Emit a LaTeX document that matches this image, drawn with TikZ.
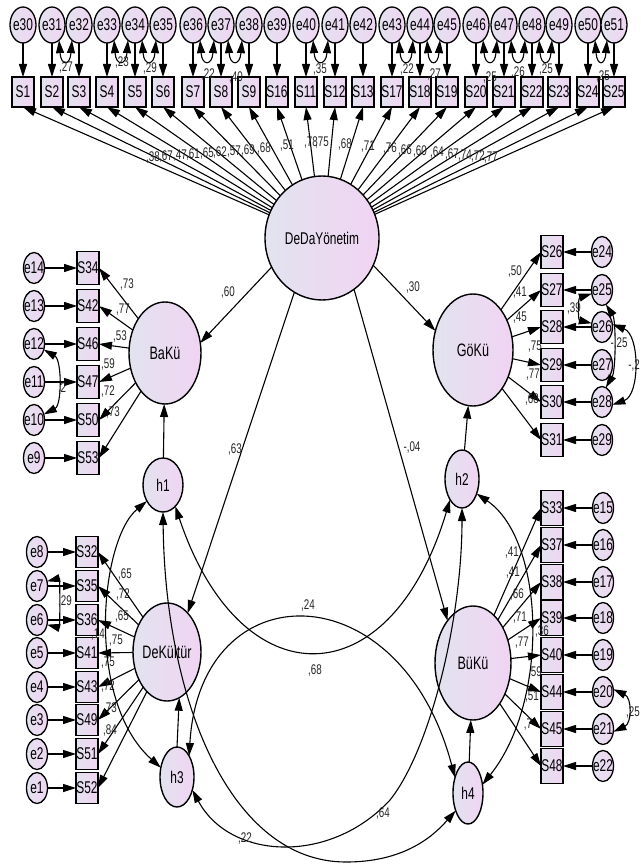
\documentclass[tikz,border=0pt]{standalone}
\usepackage{fontspec}
\setmainfont{Liberation Sans}[FakeStretch=0.7]
\usetikzlibrary{arrows.meta,shapes.geometric}
\definecolor{shA}{RGB}{226,227,239}
\definecolor{shB}{RGB}{241,212,243}
\newcommand\zb[1]{\makebox[0pt]{#1}}
\begin{document}
\begin{tikzpicture}[x=1pt,y=-1pt,
  >={Triangle[length=13pt,width=8pt]},
  every node/.style={inner sep=0pt, outer sep=0pt},
  lilac/.style={left color=shA, right color=shB},
  latent/.style={ellipse, draw=black, line width=1.4pt, lilac, font=\fontsize{18}{18}\selectfont},
  dist/.style={ellipse, draw=black, line width=1.4pt, lilac, font=\fontsize{17}{17}\selectfont},
  errtop/.style={ellipse, draw=black, line width=1.3pt, lilac, minimum width=26pt, minimum height=36pt, font=\fontsize{17}{17}\selectfont},
  errside/.style={ellipse, draw=black, line width=1.3pt, lilac, minimum width=21pt, minimum height=31pt, font=\fontsize{17}{17}\selectfont},
  obs/.style={rectangle, draw=black, line width=1.4pt, lilac, minimum width=22pt, minimum height=#1, font=\fontsize{17}{17}\selectfont},
  obs/.default=31pt,
  lbl/.style={font=\fontsize{14}{14}\selectfont, text=black!85},
  reg/.style={->, line width=1.1pt},
  cov/.style={<->, line width=1.1pt},
]
\fill[white] (0,0) rectangle (640,867);
\useasboundingbox (0,0) rectangle (640,867);

% latent variables and disturbances
\node[latent, minimum width=114pt, minimum height=124pt, font=\fontsize{17}{17}\selectfont] (DeDa) at (322,238) {\zb{DeDaYönetim}};
\node[latent, minimum width=72pt, minimum height=102pt] (BaKu) at (165,353) {\zb{BaKü}};
\node[latent, minimum width=80pt, minimum height=112pt] (GoKu) at (473,350) {\zb{GöKü}};
\node[latent, minimum width=68pt, minimum height=98pt] (DeKu) at (167,652) {\zb{DeKültür}};
\node[latent, minimum width=76pt, minimum height=114pt] (BuKu) at (473,663) {\zb{BüKü}};
\node[dist, minimum width=40pt, minimum height=54pt] (h1) at (163,485) {\zb{h1}};
\node[dist, minimum width=34pt, minimum height=58pt] (h2) at (462,479) {\zb{h2}};
\node[dist, minimum width=34pt, minimum height=60pt] (h3) at (177,777) {\zb{h3}};
\node[dist, minimum width=30pt, minimum height=62pt] (h4) at (468,793) {\zb{h4}};

% top row: items of DeDaYönetim
\foreach \x/\e/\s in {23/e30/S1, 52/e31/S2, 79/e32/S3, 107/e33/S4, 135/e34/S5, 163/e35/S6, 193/e36/S7, 221/e37/S8, 249/e38/S9, 277/e39/S16, 306/e40/S11, 335/e41/S12, 363/e42/S13, 392/e43/S17, 420/e44/S18, 447/e45/S19, 476/e46/S20, 504/e47/S21, 532/e48/S22, 559/e49/S23, 588/e50/S24, 614/e51/S25}{
  \node[errtop] (\e) at (\x,25) {\zb{\e}};
  \node[obs=30pt] (\s) at (\x,92) {\zb{\s}};
  \draw[reg] (\e) -- (\s);
  \draw[reg] (DeDa) -- (\s.south);
}
\foreach \a/\b/\t/\lx/\ly [count=\i] in {e31/e32/27/66/68, e33/e34/23/122/63, e34/e35/29/150/69, e36/e37/22/208/75, e37/e38/40/236/78, e40/e41/35/320/70, e43/e44/22/407/70, e44/e45/27/434/75, e46/e47/25/490/78, e47/e48/26/518/73, e48/e49/25/546/70, e50/e51/25/603/77}{
  \draw[cov] (\a.295) .. controls +(2,26) and +(-2,26) .. (\b.245);
  \node[lbl] (lc\i) at (\lx,\ly) {,\t};
}
\foreach \x/\y/\t [count=\i] in {153/158/38, 166/157/67, 180/156/47, 193/155/61, 207/154/65, 220/153/62, 234/152/57, 248/151/69, 264/149/68, 287/146/51, 311/143/78, 322/143/75, 345/145/68, 368/147/71, 390/149/76, 405/151/66, 420/152/60, 437/153/64, 452/155/67, 465/156/74, 478/157/72, 491/158/77}{
  \node[lbl] (ld\i) at (\x,\y) {,\t};
}

% left upper block: BaKü
\foreach \y/\e/\s in {268/e14/S34, 306/e13/S42, 344/e12/S46, 382/e11/S47, 420/e10/S50, 458/e9/S53}{
  \node[errside] (\e) at (34,\y) {\zb{\e}};
  \node[obs=33pt] (\s) at (88,\y) {\zb{\s}};
  \draw[reg] (\e) -- (\s);
  \draw[reg] (BaKu) -- (\s.east);
}
\draw[cov] (e12.330) .. controls (62,360) and (62,405) .. (e10.30);
\node[lbl, anchor=west] (lcE) at (58,389) {,2};
\foreach \x/\y/\t [count=\i] in {127/285/73, 123/310/77, 120/337/53, 108/365/59, 108/392/72, 113/413/73}{
  \node[lbl] (lb\i) at (\x,\y) {,\t};
}

% left lower block: DeKültür
\foreach \y/\e/\s in {552/e8/S32, 586/e7/S35, 620/e6/S36, 653/e5/S41, 687/e4/S43, 720/e3/S49, 754/e2/S51, 788/e1/S52}{
  \node[errside] (\e) at (37,\y) {\zb{\e}};
  \node[obs] (\s) at (87,\y) {\zb{\s}};
  \draw[reg] (\e) -- (\s);
  \draw[reg] (DeKu) -- (\s.east);
}
\draw[cov] (e7.25) .. controls (60,578) and (60,628) .. (e6.335);
\node[lbl] (lcF) at (65,602) {,29};
\foreach \x/\y/\t [count=\i] in {125/575/65, 123/595/72, 122/617/65, 116/641/75, 108/663/75, 108/686/72, 110/708/73, 110/730/84}{
  \node[lbl] (lk\i) at (\x,\y) {,\t};
}

% right upper block: GöKü
\foreach \y/\e/\s in {252/e24/S26, 290/e25/S27, 327/e26/S28, 365/e27/S29, 402/e28/S30, 440/e29/S31}{
  \node[errside] (\e) at (602,\y) {\zb{\e}};
  \node[obs=33pt] (\s) at (552,\y) {\zb{\s}};
  \draw[reg] (\e) -- (\s);
  \draw[reg] (GoKu) -- (\s.west);
}
\draw[cov] (e25.200) .. controls (578,298) and (578,320) .. (e26.160);
\draw[cov] (e25.285) .. controls (616,320) and (616,370) .. (e28.75);
\draw[cov] (e26.15) .. controls (640,335) and (640,395) .. (e28.345);
\node[lbl] (lcG) at (574,309) {,39};
\node[lbl] (lcH) at (619,344) {-,25};
\node[lbl] (lcI) at (634,366) {-,2};
\foreach \x/\y/\t [count=\i] in {515/272/50, 520/293/41, 520/318/45, 535/347/75, 533/375/77, 532/400/68}{
  \node[lbl] (lg\i) at (\x,\y) {,\t};
}

% right lower block: BüKü
\foreach \y/\e/\s in {508/e15/S33, 545/e16/S37, 582/e17/S38, 618/e18/S39, 655/e19/S40, 692/e20/S44, 729/e21/S45, 766/e22/S48}{
  \node[errside] (\e) at (603,\y) {\zb{\e}};
  \node[obs=35.5pt] (\s) at (552,\y) {\zb{\s}};
  \draw[reg] (\e) -- (\s);
  \draw[reg] (BuKu) -- (\s.west);
}
\draw[cov] (e20.15) .. controls (632,698) and (632,723) .. (e21.345);
\node[lbl] (lcJ) at (633,712) {,25};
\foreach \x/\y/\t [count=\i] in {512/553/41, 513/573/41, 517/595/66, 520/618/71, 522/643/77, 535/672/59, 532/697/51, 528/725/7}{
  \node[lbl] (lu\i) at (\x,\y) {,\t};
}

% structural paths
\draw[reg] (DeDa.210) -- (BaKu.16);
\draw[reg] (DeDa.332) -- (GoKu.153);
\draw[reg] (DeDa.243) -- (DeKu.62);
\draw[reg] (DeDa.302) -- (BuKu.121);
\draw[reg] (h1) -- (BaKu);
\draw[reg] (h2) -- (GoKu);
\draw[reg] (h3.north) -- (DeKu.285);
\draw[reg] (h4) -- (BuKu);
\node[lbl] (p1) at (228,293) {,60};
\node[lbl] (p2) at (413,288) {,30};
\node[lbl] (p3) at (235,450) {,63};
\node[lbl] (p4) at (412,448) {-,04};

% disturbance covariances
\draw[cov] (h1.225) .. controls (100,540) and (85,700) .. (h3.150);
\draw[cov] (h2.315) .. controls (545,540) and (550,700) .. (h4.30);
\draw[cov] (h1.300) .. controls (240,700) and (390,700) .. (h2.240);
\draw[cov] (h3.60) .. controls (200,570) and (400,570) .. (h4.130);
\draw[cov] (h3.320) .. controls (230,860) and (330,865) .. (390,800) .. controls (430,750) and (462,620) .. (h2.south);
\draw[cov] (h1.south) .. controls (165,700) and (230,862) .. (346,862) .. controls (400,862) and (430,840) .. (h4.235);
\node[lbl] (q1) at (98,635) {,14};
\node[lbl] (q2) at (542,632) {,36};
\node[lbl] (q3) at (315,670) {,68};
\node[lbl] (q4) at (308,606) {,24};
\node[lbl] (q5) at (383,813) {,64};
\node[lbl] (q6) at (245,838) {,22};
\end{tikzpicture}
\end{document}
